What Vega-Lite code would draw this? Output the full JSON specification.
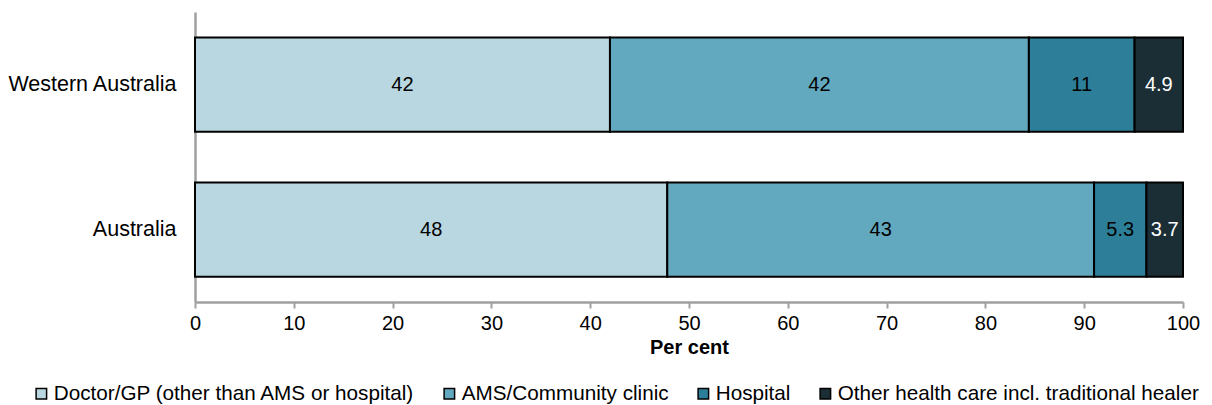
{
  "$schema": "https://vega.github.io/schema/vega-lite/v6.json",
  "autosize": {"type": "none"},
  "width": 988,
  "height": 290,
  "padding": {"left": 195, "top": 12, "right": 29, "bottom": 103},
  "background": "white",
  "config": {
    "font": "Liberation Sans",
    "view": {"stroke": null}
  },
  "data": {
    "values": [
      {"region": "Western Australia", "cat": "Doctor/GP (other than AMS or hospital)", "ord": 1, "value": 42.0},
      {"region": "Western Australia", "cat": "AMS/Community clinic", "ord": 2, "value": 42.4},
      {"region": "Western Australia", "cat": "Hospital", "ord": 3, "value": 10.7},
      {"region": "Western Australia", "cat": "Other health care incl. traditional healer", "ord": 4, "value": 4.9},
      {"region": "Australia", "cat": "Doctor/GP (other than AMS or hospital)", "ord": 1, "value": 47.8},
      {"region": "Australia", "cat": "AMS/Community clinic", "ord": 2, "value": 43.2},
      {"region": "Australia", "cat": "Hospital", "ord": 3, "value": 5.3},
      {"region": "Australia", "cat": "Other health care incl. traditional healer", "ord": 4, "value": 3.7}
    ]
  },
  "transform": [
    {"stack": "value", "groupby": ["region"], "sort": [{"field": "ord", "order": "ascending"}], "as": ["x0", "x1"]},
    {"calculate": "(datum.x0 + datum.x1) / 2", "as": "xm"}
  ],
  "encoding": {
    "y": {
      "field": "region",
      "type": "nominal",
      "sort": ["Western Australia", "Australia"],
      "scale": {"paddingInner": 0.35, "paddingOuter": 0.175},
      "axis": {
        "title": null,
        "ticks": false,
        "labelFontSize": 21.5,
        "labelColor": "#000000",
        "labelPadding": 19,
        "domainColor": "#a0a0a0",
        "domainWidth": 2.5
      }
    }
  },
  "layer": [
    {
      "mark": {"type": "bar", "stroke": "#000000", "strokeWidth": 2},
      "encoding": {
        "x": {
          "field": "x0",
          "type": "quantitative",
          "scale": {"domain": [0, 100], "nice": false},
          "axis": {
            "title": "Per cent",
            "titleFontSize": 20,
            "titleFontWeight": "bold",
            "titleColor": "#000000",
            "titlePadding": 4,
            "values": [0, 10, 20, 30, 40, 50, 60, 70, 80, 90, 100],
            "grid": false,
            "labelFontSize": 20,
            "labelColor": "#000000",
            "labelPadding": 5,
            "tickSize": 6,
            "tickColor": "#a0a0a0",
            "tickWidth": 2,
            "domainColor": "#a0a0a0",
            "domainWidth": 2.5,
            "labelFlush": false
          }
        },
        "x2": {"field": "x1"},
        "color": {
          "field": "cat",
          "type": "nominal",
          "scale": {
            "domain": ["Doctor/GP (other than AMS or hospital)", "AMS/Community clinic", "Hospital", "Other health care incl. traditional healer"],
            "range": ["#b8d7e0", "#62a9bf", "#2d7f99", "#1b2e35"]
          },
          "legend": {
            "title": null,
            "orient": "none",
            "legendX": -164,
            "legendY": 371,
            "direction": "horizontal",
            "symbolType": "square",
            "symbolSize": 110,
            "symbolStrokeColor": "#000000",
            "symbolStrokeWidth": 1.5,
            "labelFontSize": 20.7,
            "labelColor": "#000000",
            "labelOffset": 2,
            "columnPadding": 24,
            "labelLimit": 600
          }
        }
      }
    },
    {
      "mark": {"type": "text", "fontSize": 20, "align": "center", "baseline": "middle"},
      "encoding": {
        "x": {"field": "xm", "type": "quantitative"},
        "text": {"field": "value", "type": "quantitative", "format": ".2r"},
        "color": {
          "condition": {"test": "datum.ord === 4", "value": "#ffffff"},
          "value": "#000000"
        }
      }
    }
  ]
}
